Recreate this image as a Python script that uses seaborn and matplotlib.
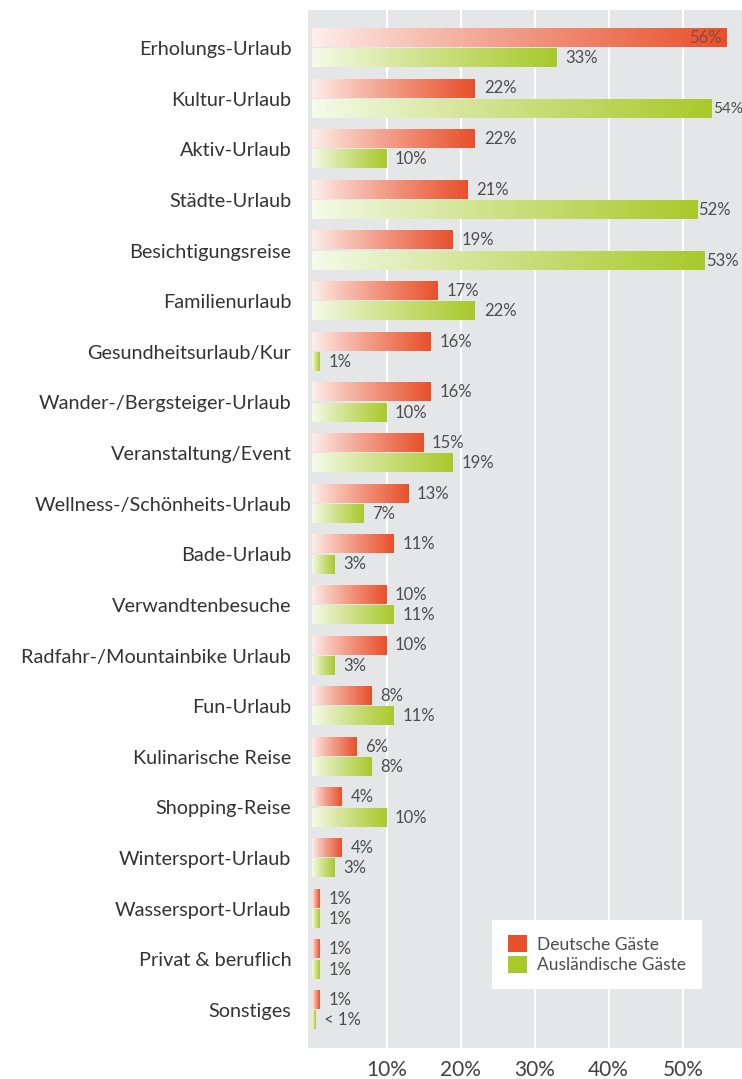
import matplotlib
matplotlib.use("Agg")
import matplotlib.pyplot as plt
from matplotlib.colors import to_rgb
from matplotlib.patches import Patch
import numpy as np
import pandas as pd
import seaborn as sns

# data
categories = ["Erholungs-Urlaub", "Kultur-Urlaub", "Aktiv-Urlaub", "Städte-Urlaub",
              "Besichtigungsreise", "Familienurlaub", "Gesundheitsurlaub/Kur",
              "Wander-/Bergsteiger-Urlaub", "Veranstaltung/Event",
              "Wellness-/Schönheits-Urlaub", "Bade-Urlaub", "Verwandtenbesuche",
              "Radfahr-/Mountainbike Urlaub", "Fun-Urlaub", "Kulinarische Reise",
              "Shopping-Reise", "Wintersport-Urlaub", "Wassersport-Urlaub",
              "Privat & beruflich", "Sonstiges"]
deutsche = [56, 22, 22, 21, 19, 17, 16, 16, 15, 13, 11, 10, 10, 8, 6, 4, 4, 1, 1, 1]
auslaendische = [33, 54, 10, 52, 53, 22, 1, 10, 19, 7, 3, 11, 3, 11, 8, 10, 3, 1, 1, 0.5]
deutsche_labels = [f"{v}%" for v in deutsche]
auslaendische_labels = [f"{v}%" for v in auslaendische[:-1]] + ["< 1%"]
groups = ["Deutsche Gäste", "Ausländische Gäste"]
xticks = [10, 20, 30, 40, 50]

colors = ["#e8502b", "#a9c92b"]
bg = "#e5e6e8"

df = pd.DataFrame({
    "cat": categories * 2,
    "group": [groups[0]] * len(categories) + [groups[1]] * len(categories),
    "value": deutsche + auslaendische,
})

sns.set_style("white", {"axes.facecolor": bg})
plt.rcParams["font.family"] = ["Lato", "DejaVu Sans"]

fig = plt.figure(figsize=(7.42, 10.79), dpi=100)
ax = fig.add_axes([308 / 742, 31 / 1079, 434 / 742, 1038 / 1079])

sns.barplot(data=df, y="cat", x="value", hue="group", orient="h", ax=ax,
            palette=colors, width=0.8, gap=0.1, legend=False, zorder=2)

# replace the flat bars by white -> colour gradients
for cont, col, labels in zip(ax.containers, colors, [deutsche_labels, auslaendische_labels]):
    rgb = np.array(to_rgb(col))
    t = np.linspace(0.06, 1, 256)[:, None] ** 0.85
    grad = (1 - t) * np.ones(3) + t * rgb
    img = grad[None, :, :]
    for patch, lab in zip(cont.patches, labels):
        x0, y0 = patch.get_x(), patch.get_y()
        w, h = patch.get_width(), patch.get_height()
        ax.imshow(img, extent=(x0, x0 + w, y0 + h, y0), aspect="auto",
                  zorder=2, interpolation="bilinear")
        patch.set_visible(False)
        yc = y0 + h / 2
        if w > 55:
            ax.annotate(lab, (x0 + w, yc), xytext=(-4, 0), textcoords="offset points",
                        ha="right", va="center", fontsize=12, color="#8a4a3a")
        elif w > 50:
            # big green bars: label squeezed against the bar end
            fs = 11 if w > 53.5 else 12
            ax.annotate(lab, (x0 + w, yc), xytext=(0.5, 0), textcoords="offset points",
                        ha="left", va="center", fontsize=fs, color="#4d4d4d")
        else:
            ax.annotate(lab, (x0 + w, yc), xytext=(6, 0), textcoords="offset points",
                        ha="left", va="center", fontsize=12, color="#4d4d4d")

ax.set_xlim(-0.6, 58)
ax.set_ylim(len(categories) - 0.25, -0.75)
ax.set_xticks(xticks)
ax.set_xticklabels([f"{v}%" for v in xticks], fontsize=15, color="#404040")
ax.set_yticks(range(len(categories)))
ax.set_yticklabels(categories, fontsize=14.3, color="#333333")
ax.tick_params(axis="both", length=0)
ax.tick_params(axis="y", pad=12)
ax.tick_params(axis="x", pad=9)
ax.set_xlabel("")
ax.set_ylabel("")
ax.grid(axis="x", color="white", linewidth=1.5, zorder=1)
ax.set_axisbelow(True)
sns.despine(ax=ax, left=True, bottom=True)

handles = [Patch(facecolor=c, edgecolor="none") for c in colors]
leg = ax.legend(handles, groups, loc="lower left", bbox_to_anchor=(0.424, 0.057),
                borderaxespad=0, frameon=True, fancybox=False, fontsize=12.5,
                handlelength=1.1, handleheight=1.1, borderpad=0.9, labelspacing=0.2,
                handletextpad=0.6)
leg.get_frame().set_facecolor("white")
leg.get_frame().set_edgecolor("none")
leg.get_frame().set_alpha(1)
for txt in leg.get_texts():
    txt.set_color("#4d4d4d")

fig.savefig("out.png", dpi=100)
